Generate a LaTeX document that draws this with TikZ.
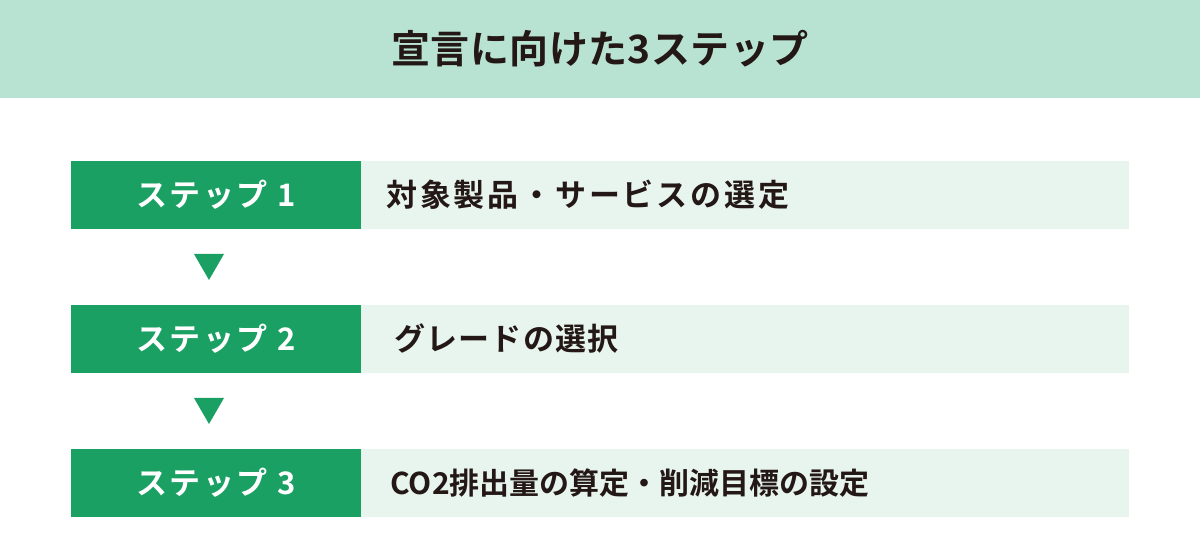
\documentclass[tikz,border=0pt]{standalone}
\usepackage{fontspec}
\setmainfont{Noto Sans CJK JP}[BoldFont={Noto Sans CJK JP Bold}]
\usetikzlibrary{positioning}
\usetikzlibrary{calc}
\definecolor{stepgreen}{HTML}{1BA064}
\definecolor{palegreen}{HTML}{E8F5EE}
\definecolor{headgreen}{HTML}{B8E2D2}
\definecolor{inkblack}{HTML}{231815}

\begin{document}
\begin{tikzpicture}[x=1pt,y=-1pt,
    stepbox/.style={fill=stepgreen,text=white,minimum width=290pt,minimum height=68pt,inner sep=0pt,
        font=\bfseries\fontsize{31}{31}\selectfont\addfontfeatures{LetterSpace=8}},
    textbox/.style={fill=palegreen,minimum width=768pt,minimum height=68pt,inner sep=0pt,anchor=west},
    desc/.style={text=inkblack,inner sep=0pt,anchor=west}]
                \useasboundingbox (0,0) rectangle (1200,534);
                \fill[headgreen] (0,0) rectangle (1200,98);
                \node[text=inkblack,font=\bfseries\fontsize{39}{39}\selectfont\addfontfeatures{LetterSpace=1}] (title) at (600,49) {宣言に向けた3ステップ};
                \foreach \n/\y/\dx/\fs/\ls/\txt in {1/195/25/31/9/対象製品・サービスの選定, 2/339/33/31/3.8/グレードの選択, 3/483/29/30/0/CO2排出量の算定・削減目標の設定} {
                    \node[stepbox] (s\n) at (216,\y) {ステップ \n};
                    \node[textbox] (d\n) at (s\n.east) {};
                    \node[desc,font=\bfseries\fontsize{\fs}{\fs}\selectfont\addfontfeatures{LetterSpace=\ls}] (l\n) at ($(d\n.west)+(\dx,0)$) {\txt};
                }
                \foreach \a/\b in {s1/s2, s2/s3} {
                    \coordinate (t\a) at ($(\a.south)!0.5!(\b.north)$);
                    \fill[stepgreen] ($(t\a)+(-22,-13)$) -- ++(30,0) -- ++(-15,26) -- cycle;
                }
            \end{tikzpicture}
\end{document}
